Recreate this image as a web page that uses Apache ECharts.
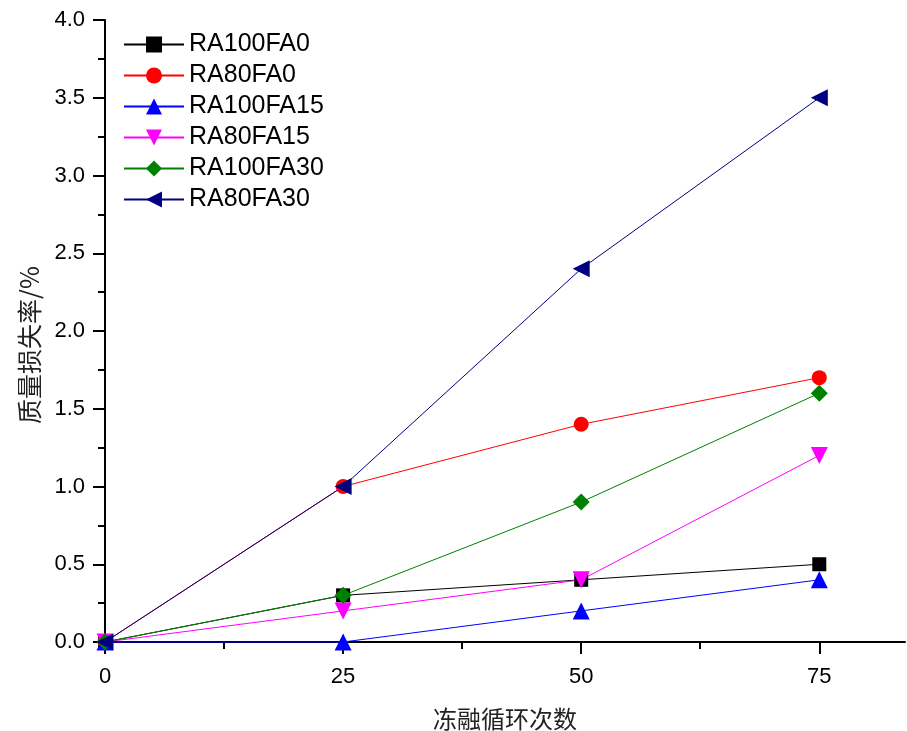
<!DOCTYPE html>
<html>
<head>
<meta charset="utf-8">
<script src="https://cdn.jsdelivr.net/npm/echarts@6/dist/echarts.min.js"></script>
<style>
html, body { margin: 0; padding: 0; background: #fff; }
#main { width: 907px; height: 731px; }
</style>
</head>
<body>
<div id="main"></div>
<script>
// 冻融循环次数
var cycles = [0, 25, 50, 75];
var seriesNames = ['RA100FA0', 'RA80FA0', 'RA100FA15', 'RA80FA15', 'RA100FA30', 'RA80FA30'];
var ra100fa0 = [0, 0.3, 0.4, 0.5];
var ra80fa0 = [0, 1.0, 1.4, 1.7];
var ra100fa15 = [0, 0, 0.2, 0.4];
var ra80fa15 = [0, 0.2, 0.4, 1.2];
var ra100fa30 = [0, 0.3, 0.9, 1.6];
var ra80fa30 = [0, 1.0, 2.4, 3.5];
var xTicks = [0, 25, 50, 75];
var xMinorTicks = [12.5, 37.5, 62.5];

var colors = ['#000000', '#ff0000', '#0000ff', '#ff00ff', '#008000', '#000080'];
var symbols = ['rect', 'circle', 'triangle', 'triangle', 'diamond', 'triangle'];
var rotates = [0, 0, 0, 180, 0, 90];
var sizes = [14, 15, 17, 17, 17, 17];
var allData = [ra100fa0, ra80fa0, ra100fa15, ra80fa15, ra100fa30, ra80fa30];

function pairs(ys) {
	var res = [];
	for (var i = 0; i < cycles.length; i++) {
		res.push([cycles[i], ys[i]]);
	}
	return res;
}

var series = [];
for (var i = 0; i < seriesNames.length; i++) {
	series.push({
		name: seriesNames[i],
		type: 'line',
		data: pairs(allData[i]),
		symbol: symbols[i],
		symbolSize: sizes[i],
		symbolRotate: rotates[i],
		showAllSymbol: true,
		clip: false,
		color: colors[i],
		lineStyle: { width: 1, color: colors[i] },
		itemStyle: { color: colors[i] }
	});
}

var font = '"Liberation Sans", Arial, sans-serif';
var cjk = '"Noto Sans CJK SC", sans-serif';

var option = {
	backgroundColor: '#ffffff',
	animation: false,
	grid: { left: 105, right: 2, top: 20, bottom: 89, outerBoundsMode: 'none' },
	legend: {
		left: 118,
		top: 27,
		orient: 'vertical',
		itemWidth: 60,
		itemHeight: 20,
		itemGap: 6,
		textStyle: { fontFamily: font, fontSize: 25, color: '#000', lineHeight: 25 },
		data: seriesNames
	},
	xAxis: [{
		type: 'value',
		min: 0,
		max: 84,
		name: '冻融循环次数',
		nameLocation: 'middle',
		nameGap: 65,
		nameTextStyle: { fontFamily: cjk, fontSize: 24, color: '#222' },
		axisLine: { lineStyle: { color: '#000', width: 2 } },
		axisTick: { customValues: xTicks, length: 12, lineStyle: { color: '#000', width: 2 } },
		axisLabel: { customValues: xTicks, margin: 24, fontFamily: font, fontSize: 22, color: '#000' },
		splitLine: { show: false }
	}, {
		type: 'value',
		min: 0,
		max: 84,
		position: 'bottom',
		axisLine: { show: false },
		axisTick: { customValues: xMinorTicks, length: 7, lineStyle: { color: '#000', width: 2 } },
		axisLabel: { show: false },
		splitLine: { show: false }
	}],
	yAxis: {
		type: 'value',
		min: 0,
		max: 4,
		interval: 0.5,
		name: '质量损失率/%',
		nameLocation: 'middle',
		nameGap: 63,
		nameRotate: 90,
		nameTextStyle: { fontFamily: cjk, fontSize: 25, color: '#222', padding: [0, 28, 0, 0] },
		axisLine: { show: true, lineStyle: { color: '#000', width: 2 } },
		axisTick: { show: true, length: 12, lineStyle: { color: '#000', width: 2 } },
		minorTick: { show: true, splitNumber: 2, length: 7, lineStyle: { color: '#000', width: 2 } },
		axisLabel: {
			margin: 20,
			fontFamily: font,
			fontSize: 22,
			color: '#000',
			formatter: function (v) { return v.toFixed(1); }
		},
		splitLine: { show: false }
	},
	series: series
};

var myChart = echarts.init(document.getElementById('main'));
myChart.setOption(option);
</script>
</body>
</html>
